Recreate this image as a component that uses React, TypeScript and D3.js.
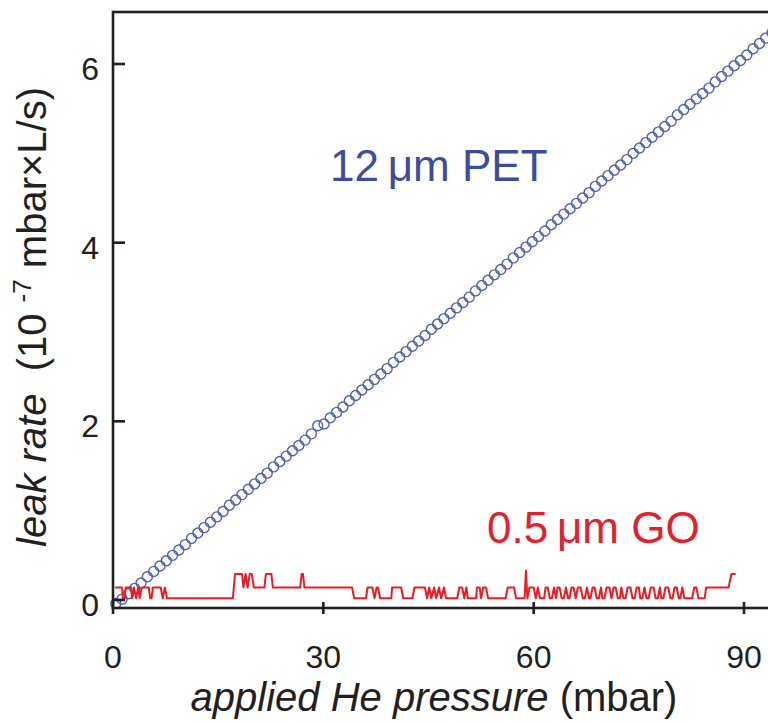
import React, { useEffect, useRef } from 'react';
import * as d3 from 'd3';

// 12 um PET membrane, open circles (applied pressure in mbar, leak in 1e-7 mbar L/s)
const petPressure = [
  0.4, 1.3, 2.2, 3.1, 4.0, 4.9, 5.8, 6.7, 7.6, 8.5, 9.4, 10.3, 11.2, 12.1, 13.0, 13.9,
  14.8, 15.7, 16.6, 17.5, 18.4, 19.3, 20.2, 21.1, 22.0, 22.9, 23.8, 24.7, 25.6, 26.5,
  27.4, 28.3, 29.2, 30.1, 31.0, 31.9, 32.8, 33.7, 34.6, 35.5, 36.4, 37.3, 38.2, 39.1,
  40.0, 40.9, 41.8, 42.7, 43.6, 44.5, 45.4, 46.3, 47.2, 48.1, 49.0, 49.9, 50.8, 51.7,
  52.6, 53.5, 54.4, 55.3, 56.2, 57.1, 58.0, 58.9, 59.8, 60.7, 61.6, 62.5, 63.4, 64.3,
  65.2, 66.1, 67.0, 67.9, 68.8, 69.7, 70.6, 71.5, 72.4, 73.3, 74.2, 75.1, 76.0, 76.9,
  77.8, 78.7, 79.6, 80.5, 81.4, 82.3, 83.2, 84.1, 85.0, 85.9, 86.8, 87.7, 88.6, 89.5,
  90.4, 91.3, 92.2, 93.1, 94.0,
];
const petLeak = [
  -0.04, 0.01, 0.07, 0.13, 0.19, 0.26, 0.32, 0.38, 0.44, 0.5, 0.56, 0.62, 0.69, 0.75, 0.81, 0.87,
  0.93, 0.99, 1.06, 1.12, 1.18, 1.24, 1.3, 1.36, 1.42, 1.49, 1.55, 1.61, 1.67, 1.73,
  1.79, 1.86, 1.95, 1.97, 2.04, 2.1, 2.16, 2.23, 2.29, 2.35, 2.41, 2.47, 2.53, 2.59,
  2.66, 2.72, 2.78, 2.84, 2.9, 2.96, 3.03, 3.09, 3.15, 3.21, 3.27, 3.33, 3.39, 3.46,
  3.52, 3.58, 3.64, 3.7, 3.76, 3.83, 3.89, 3.95, 4.01, 4.07, 4.13, 4.2, 4.26, 4.32,
  4.38, 4.44, 4.5, 4.56, 4.63, 4.69, 4.75, 4.81, 4.87, 4.93, 5.0, 5.06, 5.12, 5.18,
  5.24, 5.3, 5.36, 5.43, 5.49, 5.55, 5.61, 5.67, 5.73, 5.8, 5.86, 5.92, 5.98, 6.04,
  6.1, 6.17, 6.23, 6.29, 6.35,
];

// 0.5 um GO membrane, noisy step trace [pressure, leak]
const goTrace: [number, number][] = [
  [0.3, 0.14], [1.3, 0.14], [1.4, 0.02], [1.7, 0.02], [1.8, 0.14], [2.6, 0.14], [2.7, 0.02],
  [3.0, 0.14], [3.3, 0.02], [3.6, 0.14], [3.8, 0.02], [4.1, 0.14], [5.1, 0.14], [5.3, 0.02],
  [5.5, 0.02], [5.7, 0.14], [6.8, 0.14], [7.1, 0.02], [7.4, 0.14], [7.7, 0.02], [17.1, 0.02],
  [17.4, 0.29], [18.4, 0.29], [18.6, 0.14], [18.9, 0.29], [19.2, 0.14], [19.5, 0.29], [19.8, 0.29],
  [20.1, 0.14], [21.6, 0.14], [21.8, 0.29], [22.6, 0.29], [22.8, 0.14], [26.7, 0.14], [26.9, 0.29],
  [27.1, 0.29], [27.3, 0.14], [34.1, 0.14], [34.4, 0.02], [36.1, 0.02], [36.3, 0.14], [37.0, 0.14],
  [37.3, 0.02], [37.6, 0.14], [37.8, 0.14], [38.1, 0.02], [39.7, 0.02], [39.8, 0.14], [41.1, 0.14],
  [41.4, 0.02], [42.7, 0.02], [43.0, 0.14], [44.5, 0.14], [44.8, 0.02], [45.1, 0.14], [45.4, 0.02],
  [45.8, 0.14], [46.1, 0.02], [46.5, 0.14], [46.8, 0.02], [47.2, 0.14], [47.5, 0.02], [49.1, 0.02],
  [49.4, 0.14], [49.8, 0.14], [50.1, 0.02], [50.4, 0.14], [50.6, 0.02], [51.8, 0.02], [51.9, 0.14],
  [52.3, 0.14], [52.5, 0.02], [52.8, 0.14], [53.2, 0.14], [53.5, 0.02], [56.0, 0.02], [56.3, 0.14],
  [57.2, 0.14], [57.5, 0.02], [58.7, 0.02], [58.9, 0.33], [59.1, 0.02], [59.4, 0.14], [60.0, 0.14],
  [60.3, 0.02], [60.6, 0.14], [60.9, 0.02], [61.5, 0.02], [61.7, 0.14], [62.0, 0.14], [62.3, 0.02],
  [62.6, 0.02], [62.9, 0.14], [63.2, 0.02], [63.4, 0.14], [63.7, 0.14], [64.0, 0.02], [64.3, 0.02],
  [64.6, 0.14], [64.9, 0.02], [65.1, 0.02], [65.4, 0.14], [65.7, 0.14], [66.0, 0.02], [66.3, 0.14],
  [66.7, 0.14], [67.0, 0.02], [67.3, 0.02], [67.6, 0.14], [67.9, 0.02], [68.1, 0.02], [68.4, 0.14],
  [68.7, 0.14], [69.0, 0.02], [69.3, 0.02], [69.6, 0.14], [69.8, 0.02], [70.1, 0.02], [70.4, 0.14],
  [70.8, 0.14], [71.1, 0.02], [71.4, 0.14], [71.7, 0.14], [72.0, 0.02], [72.3, 0.02], [72.5, 0.14],
  [72.8, 0.02], [73.1, 0.02], [73.4, 0.14], [73.8, 0.14], [74.1, 0.02], [74.4, 0.02], [74.7, 0.14],
  [75.0, 0.14], [75.2, 0.02], [75.5, 0.02], [75.8, 0.14], [76.1, 0.02], [76.4, 0.02], [76.7, 0.14],
  [77.1, 0.14], [77.4, 0.02], [77.7, 0.02], [78.0, 0.14], [78.2, 0.02], [78.5, 0.02], [78.8, 0.14],
  [79.2, 0.14], [79.5, 0.02], [79.8, 0.02], [80.1, 0.14], [80.4, 0.14], [80.7, 0.02], [80.9, 0.02],
  [81.2, 0.14], [81.5, 0.02], [82.6, 0.02], [82.9, 0.14], [83.2, 0.14], [83.5, 0.02], [84.4, 0.02],
  [84.6, 0.14], [87.8, 0.14], [88.2, 0.29], [88.8, 0.29],
];

const xTicks = [0, 30, 60, 90];
const yTicks = [0, 2, 4, 6];

const App = () => {
  const svgRef = useRef<SVGSVGElement>(null);

  useEffect(() => {
    const svg = d3.select(svgRef.current);
    svg.selectAll('*').remove();

    const font = '"Liberation Sans", Arial, Helvetica, sans-serif';
    const ink = '#231f20';
    const blue = '#4f60b0';
    const red = '#ed1c24';

    const x = d3.scaleLinear().domain([0, 90]).range([113, 744]);
    const y = d3.scaleLinear().domain([0, 6]).range([600, 64]);
    const top = 12;
    const bottom = 608;
    const right = x(96); // frame continues past the crop

    // PET circles
    svg
      .append('g')
      .selectAll('circle')
      .data(petPressure.map((p, i) => [p, petLeak[i]]))
      .enter()
      .append('circle')
      .attr('cx', (d) => x(d[0]))
      .attr('cy', (d) => y(d[1]))
      .attr('r', 5)
      .attr('fill', 'none')
      .attr('stroke', blue)
      .attr('stroke-width', 1.4);

    // GO trace
    const line = d3
      .line<[number, number]>()
      .x((d) => x(d[0]))
      .y((d) => y(d[1]));
    svg
      .append('path')
      .attr('d', line(goTrace))
      .attr('fill', 'none')
      .attr('stroke', red)
      .attr('stroke-width', 2)
      .attr('stroke-linejoin', 'round');

    // frame
    svg
      .append('rect')
      .attr('x', x(0))
      .attr('y', top)
      .attr('width', right - x(0))
      .attr('height', bottom - top)
      .attr('fill', 'none')
      .attr('stroke', ink)
      .attr('stroke-width', 2.6);

    // y ticks, inward
    const yt = svg.append('g').attr('stroke', ink).attr('stroke-width', 2.6);
    yTicks.forEach((v) => {
      yt.append('line').attr('x1', x(0)).attr('x2', x(0) + 12).attr('y1', y(v)).attr('y2', y(v));
    });

    // x ticks cross the bottom axis
    const xt = svg.append('g').attr('stroke', ink).attr('stroke-width', 2.6);
    xTicks.forEach((v) => {
      xt.append('line').attr('x1', x(v)).attr('x2', x(v)).attr('y1', bottom - 6).attr('y2', bottom + 6);
    });

    // tick labels
    svg
      .append('g')
      .selectAll('text')
      .data(yTicks)
      .enter()
      .append('text')
      .attr('x', 99)
      .attr('y', (d) => y(d) + 16)
      .attr('text-anchor', 'end')
      .attr('font-family', font)
      .attr('font-size', 32)
      .attr('fill', ink)
      .text((d) => d);

    svg
      .append('g')
      .selectAll('text')
      .data(xTicks)
      .enter()
      .append('text')
      .attr('x', (d) => x(d))
      .attr('y', 668)
      .attr('text-anchor', 'middle')
      .attr('font-family', font)
      .attr('font-size', 32)
      .attr('fill', ink)
      .text((d) => d);

    // x axis title
    const xTitle = svg
      .append('text')
      .attr('x', 434)
      .attr('y', 711)
      .attr('text-anchor', 'middle')
      .attr('font-family', font)
      .attr('font-size', 40)
      .attr('fill', ink)
      .style('white-space', 'pre');
    xTitle.append('tspan').attr('font-style', 'italic').text('applied He pressure');
    xTitle.append('tspan').text(' (mbar)');

    // y axis title
    const yTitle = svg
      .append('text')
      .attr('transform', 'translate(46, 317) rotate(-90)')
      .attr('text-anchor', 'middle')
      .attr('font-family', font)
      .attr('font-size', 40)
      .attr('fill', ink)
      .style('white-space', 'pre');
    yTitle.append('tspan').attr('font-style', 'italic').text('leak rate');
    yTitle.append('tspan').text('  (10 ');
    yTitle.append('tspan').attr('font-size', 26).attr('dy', -15).text('-7');
    yTitle.append('tspan').attr('dy', 15).text(' mbar\u00d7L/s)');

    // series labels
    svg
      .append('text')
      .attr('x', 330)
      .attr('y', 181)
      .attr('font-family', font)
      .attr('font-size', 44)
      .attr('fill', '#3e4c9e')
      .style('white-space', 'pre')
      .text('12\u2009\u03bcm PET');

    svg
      .append('text')
      .attr('x', 487)
      .attr('y', 543)
      .attr('font-family', font)
      .attr('font-size', 44)
      .attr('fill', '#e5202e')
      .style('white-space', 'pre')
      .text('0.5\u2009\u03bcm GO');
  }, []);

  return (
    <svg
      ref={svgRef}
      width={768}
      height={723}
      style={{ position: 'absolute', left: 0, top: 0, background: '#fff' }}
    />
  );
};

export default App;
